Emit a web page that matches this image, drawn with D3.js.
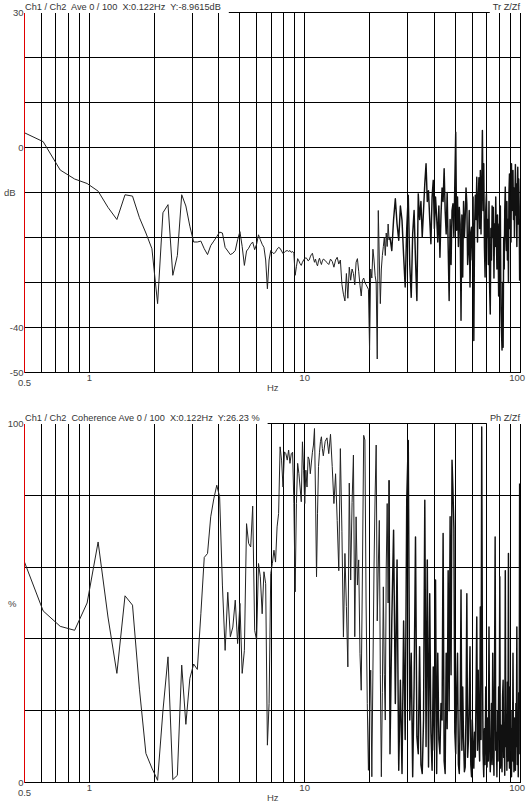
<!DOCTYPE html>
<html><head><meta charset="utf-8">
<script src="https://cdn.jsdelivr.net/npm/d3@7"></script>
<style>html,body{margin:0;padding:0;background:#fff;} svg{display:block;} text{white-space:pre;}</style>
</head><body><svg id="c" width="526" height="805"></svg>
<script>
// Frequency resolution of the analyser (Hz per FFT bin)
const binHz = 0.12207;
// Each data array covers bins starting at segStart with spacing segStep
const segStart = [4, 102, 204];
const segStep = [1, 2, 4];

// Transfer function Z/Zf, dB
const transLow = [3.5,1.3,-5.0,-7.0,-8.0,-9.7,-13.3,-16.0,-10.5,-10.8,-15.6,-19.0,-22.5,-34.7,-14.5,-12.7,-28.4,-24.0,-10.5,-13.0,
-17.5,-21.0,-21.0,-20.8,-22.5,-23.8,-21.8,-20.8,-19.8,-18.8,-19.0,-22.2,-23.0,-23.8,-23.5,-22.9,-20.5,-18.7,-22.0,-26.2,
-23.0,-22.4,-21.5,-21.0,-22.7,-21.5,-19.4,-20.5,-21.5,-22.2,-25.0,-31.4,-25.0,-22.9,-23.3,-23.6,-23.2,-22.6,-22.2,-22.4,
-23.0,-23.6,-23.3,-23.0,-22.9,-23.1,-22.9,-23.3,-23.1,-23.5,-28.4,-26.5,-24.7,-25.2,-25.8,-26.2,-25.5,-25.0,-24.7,-24.5,
-24.7,-25.2,-25.0,-24.3,-23.8,-23.5,-24.6,-25.5,-24.8,-25.8,-26.3,-25.2,-24.6,-25.4,-26.0,-25.2,-24.8];
const transMid = [-25.1,-25.6,-26.0,-24.8,-25.3,-26.6,-25.0,-24.4,-25.9,-25.0,-30.4,-32.6,-34.1,-28.0,-33.5,-26.6,-29.5,-27.0,-28.0,-30.5,
-25.5,-24.7,-27.5,-30.6,-33.0,-29.5,-29.0,-30.0,-30.5,-31.0,-31.5,-45.0,-27.0,-29.0,-22.6,-25.0,-28.5,-30.0,-47.0,-14.0,
-25.0,-34.7,-27.0,-24.0,-22.0,-20.0,-24.0,-19.0,-22.0,-17.0,-20.5];
const transHigh = [-20,-22.9,-16,-11.4,-17,-20.6,-13,-16.2,-24,-31,-18,-10.6,-26,-33.3,-19.2,-14,-25,-34,-10.3,-16,
-12,-19.9,-14,-8,-3.6,-12,-9.6,-16,-21.4,-11,-7.3,-18,-11,-15.5,-21,-13,-24.4,-15,-9,-12,
-4.7,-14,-19.2,-10,-22,-34,-16,-26,-14,-12.5,-20,-8,3.4,-18.4,-11,-22,-13.3,-17,-38.4,-15,
-28.8,-12,-20,-15.5,-9,-12.5,-26,-22.9,-14,-31,-19,-17.7,-25,-11,-42.9,-18,-10.6,-16,-6.6,-21,
-12,-6.7,-18,-5.1,-19.2,-9,3.8,-14,-3.6,-22,-28.8,-14,-10.3,-20,-16,-26,-12,-31,-37,-18,
-25,-13,-20,-13.3,-29,-17,-22,-11,-19.2,-27,-15,-21,-33,-17,-24,-13,-36,-40.7,-45,-30,
-44.4,-20,-27,-14,-8.8,-19,-22.9,-12,-25,-16,-30,-10,-5.9,-18,-12,-21,-3.6,-14,-8,-5.1,
-16,-9,-20,-12,-3.8,-15,-8.1,-22,-11,-4.4,-17,-7,-13,-29.6];

// Coherence, %
const cohLow = [63,47.8,43.5,42.4,50,67,46.1,30.4,52,49.4,26,8.1,4,0.6,20,35,0.8,2,32.7,16.2,
29,33,31.5,47,62.7,63.8,74,79,82.8,79.6,55,36.8,53,40.6,43.3,50.8,38.7,49.9,30.4,36.8,
72.1,66.6,65.6,77,42.4,39.6,61,57.3,47,58.7,55.4,10.4,22,58.2,61,64.7,61.4,71.2,74.9,93.5,
89.8,82.3,92.1,91.6,89.8,92.6,88.9,91.6,92,77.7,53.1,77.7,88.9,86.1,82.3,78.2,94.9,87,77.7,87,
82.3,90.7,90,86,89,92,94,98.6,80,57.3,75,88,92,95,96.3,93,91];
const cohMid = [95,96,91.6,97,88,77.7,86,73,59,93,70,40.5,63.8,49,32.2,83.4,56.4,78,91.2,40.6,
74,55,62,36,25.7,60,96.7,95.4,50,22,3.4,20,31.3,1.6,31.3,60,80,94,45,60,
73,30,1.6,25,54.5,30,17.4,60,77.7,50,84.2];
const cohHigh = [8,45,70.3,22,62,3.4,28.5,2.5,45,12,78.6,95.3,17.4,36,1.6,26.6,68.4,12.7,8,37.8,
5,2.5,17.4,78.6,10,62,4.3,52.6,14,3.4,32.2,9,56.4,2.5,36,12,8,22,17.4,69.4,
6,2.5,36,15,59,20,74,30,89.8,81.4,71,14,8,25,36,5,2.5,18,53.6,9,
26.6,12,3,4.3,20,52.6,7,11.8,22,37.8,5,1.6,17.4,10,4,14,7.1,25,46.1,9,
31.3,13,6,48.9,12,99,36,8,1.6,15,5,26.6,10,4.3,18,6,43.3,12,3,8,
22,5,36,11,2,30,68.4,9,14,1.6,20,6,26.6,12,57.3,4,16,8,3,24,
28.5,7,13,2,59,10,19,3.4,28,6,63.8,12,4,26.6,9,15,1.6,20,6,36,
11,3,18,7,3.4,22,10,43.3,5,14,1.6,25,8,83.3];

// Axes / grid
const freqGrid = [0.6,0.7,0.8,0.9,1,2,3,4,5,6,7,8,9,10,20,30,40,50,60,70,80,90,100];
const freqLabels = ["0.5","1","10","100"];
const freqLabelVals = [0.5,1,10,100];
const transGrid = [30,20,10,0,-10,-20,-30,-40,-50];
const transLabelVals = [30,0,-40,-50];
const cohGrid = [100,80,60,40,20,0];
const cohLabelVals = [100,0];

function build(arrs){
  return arrs.map((a,s)=>a.map((v,i)=>({f:(segStart[s]+i*segStep[s])*binHz, v})));
}

const svg = d3.select("#c");
const FONT = "'Liberation Sans', Arial, sans-serif";
const x = d3.scaleLog().domain([0.5,100]).range([24.5,520]);
const snap = v => Math.floor(v)+0.5;

const panels = [
  {top:12.5,bottom:372.5,domain:[-50,30],grid:transGrid,labels:transLabelVals,unit:"dB",
   segs:build([transLow,transMid,transHigh]),
   head:"Ch1 / Ch2  Ave 0 / 100  X:0.122Hz  Y:-8.9615dB", right:"Tr Z/Zf", id:"p1"},
  {top:423.5,bottom:782.5,domain:[0,100],grid:cohGrid,labels:cohLabelVals,unit:"%",
   segs:build([cohLow,cohMid,cohHigh]),
   head:"Ch1 / Ch2  Coherence Ave 0 / 100  X:0.122Hz  Y:26.23 %", right:"Ph Z/Zf", id:"p2"}
];

panels.forEach(p=>{
  const y = d3.scaleLinear().domain(p.domain).range([p.bottom,p.top]);
  const g = svg.append("g");
  g.append("clipPath").attr("id","clip"+p.id).append("rect")
    .attr("x",24.5).attr("y",p.top).attr("width",520-24.5).attr("height",p.bottom-p.top);
  // horizontal grid
  g.selectAll(".h").data(p.grid).enter().append("line")
    .attr("x1",24.5).attr("x2",521).attr("y1",d=>snap(y(d))).attr("y2",d=>snap(y(d)))
    .attr("stroke","#000").attr("stroke-width",1).attr("shape-rendering","crispEdges");
  // vertical grid
  g.selectAll(".v").data(freqGrid).enter().append("line")
    .attr("x1",d=>snap(x(d))).attr("x2",d=>snap(x(d))).attr("y1",p.top).attr("y2",p.bottom)
    .attr("stroke","#000").attr("stroke-width",1).attr("shape-rendering","crispEdges");
  // trace: low/mid part thin, dense high-frequency part heavier
  const line = d3.line().x(d=>x(d.f)).y(d=>y(d.v));
  const lowMid = p.segs[0].concat(p.segs[1]);
  const high = [lowMid[lowMid.length-1]].concat(p.segs[2]);
  g.append("path").datum(lowMid).attr("d",line).attr("fill","none")
    .attr("stroke","#222").attr("stroke-width",1).attr("stroke-linejoin","round")
    .attr("clip-path","url(#clip"+p.id+")");
  g.append("path").datum(high).attr("d",line).attr("fill","none")
    .attr("stroke","#111").attr("stroke-width",1.45).attr("stroke-linejoin","round")
    .attr("clip-path","url(#clip"+p.id+")");
  // red y axis
  g.append("line").attr("x1",24.5).attr("x2",24.5).attr("y1",p.top).attr("y2",p.bottom+0.5)
    .attr("stroke","#e00000").attr("stroke-width",1).attr("shape-rendering","crispEdges");
  // header
  const ht = g.append("text").attr("x",25).attr("y",p.top-2.2).text(p.head)
    .attr("font-family",FONT).attr("font-size",9.2).attr("fill","#333");
  const bb = ht.node().getBBox();
  g.insert("rect","text").attr("x",25).attr("y",p.top-13).attr("width",bb.width+8).attr("height",13.5).attr("fill","#fff");
  const rt = g.append("text").attr("x",520).attr("y",p.top-2.2).attr("text-anchor","end").text(p.right)
    .attr("font-family",FONT).attr("font-size",9.2).attr("fill","#333");
  const rb = rt.node().getBBox();
  g.insert("rect","text").attr("x",rb.x-3).attr("y",p.top-13).attr("width",rb.width+6).attr("height",13.5).attr("fill","#fff");
  // y labels
  g.selectAll(".yl").data(p.labels).enter().append("text")
    .attr("x",23.5).attr("y",d=>y(d)+3.6).attr("text-anchor","end").text(d=>d)
    .attr("font-family",FONT).attr("font-size",9.5).attr("fill","#444");
  g.append("text").attr("x",p.unit==="dB"?4:8).attr("y",(p.top+p.bottom)/2+3.7).text(p.unit)
    .attr("font-family",FONT).attr("font-size",9.5).attr("fill","#444");
  // x labels
  freqLabelVals.forEach((f,i)=>{
    const t = g.append("text").text(freqLabels[i])
      .attr("font-family",FONT).attr("font-size",9.5).attr("fill","#444");
    if(i===0){ t.attr("x",x(f)).attr("y",p.bottom+13.5).attr("text-anchor","middle"); }
    else if(i===3){ t.attr("x",525).attr("y",p.bottom+8.3).attr("text-anchor","end"); }
    else { t.attr("x",x(f)).attr("y",p.bottom+8.3).attr("text-anchor","middle"); }
  });
  g.append("text").attr("x",267).attr("y",p.bottom+18.8).text("Hz")
    .attr("font-family",FONT).attr("font-size",9.5).attr("fill","#444");
});
</script></body></html>
